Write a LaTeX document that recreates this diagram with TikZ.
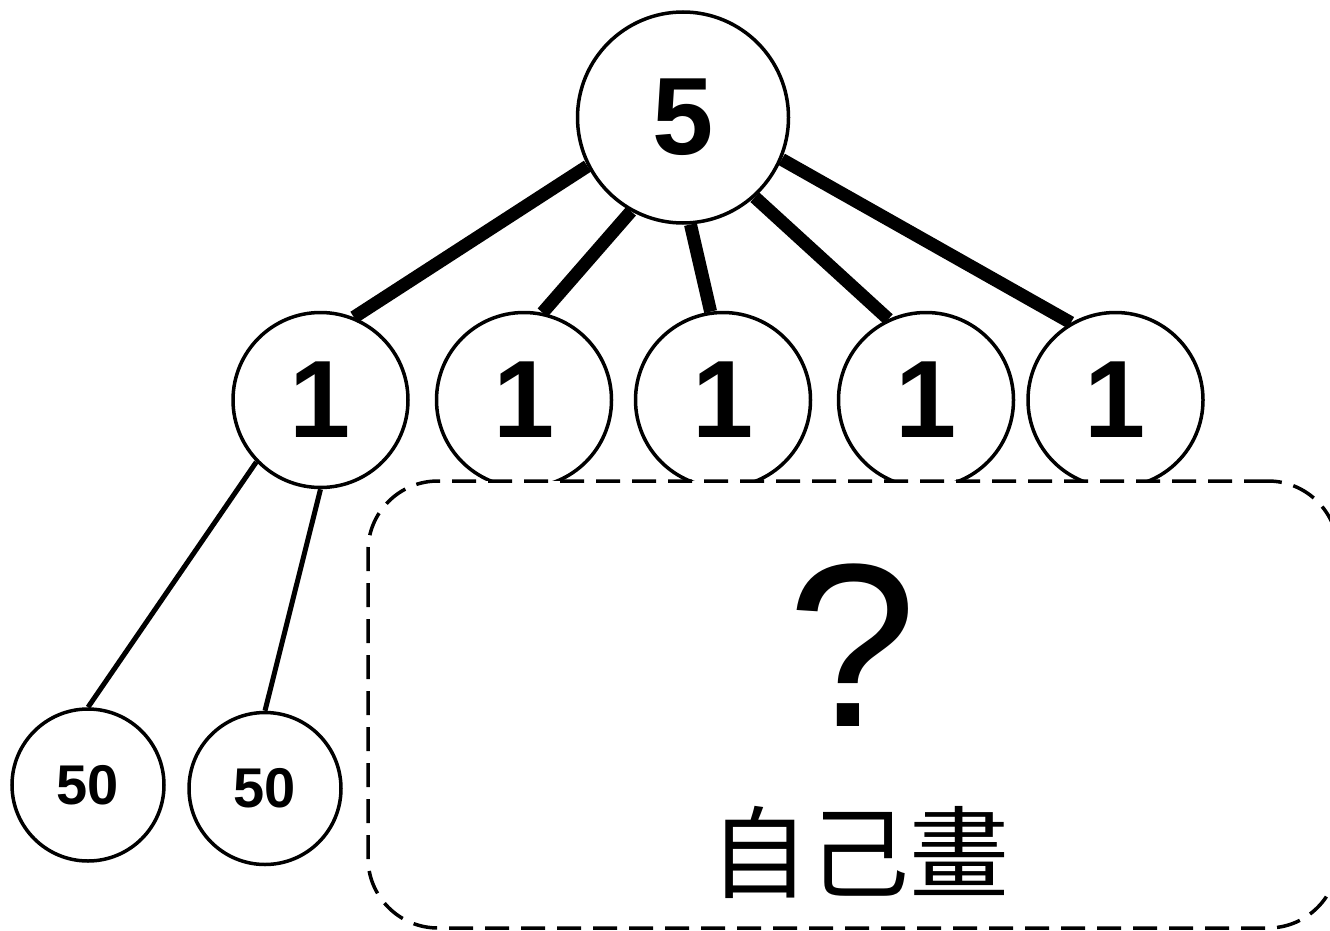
\documentclass[tikz,border=0pt]{standalone}
\usepackage{fontspec}
\setmainfont{Liberation Sans}
\newfontfamily\cjkfont{Noto Sans CJK TC}
\begin{document}
\begin{tikzpicture}[x=1pt,y=-1pt,
  circ/.style={circle,draw,line width=3.5pt,fill=white,inner sep=0pt,font=\bfseries},
  bigfont/.style={font=\fontsize{110}{120}\selectfont\bfseries},
  smallfont/.style={font=\fontsize{56}{60}\selectfont\bfseries},
  thickedge/.style={line width=13pt},
  thinedge/.style={line width=5pt},
  dashbox/.style={draw,line width=3.5pt,dash pattern=on 24pt off 12pt,fill=white,rounded corners=70pt}]
\useasboundingbox (0,0) rectangle (1330,931);
% nodes
\node[circ,bigfont,minimum size=211pt] (top) at (683,117.5) {5};
\node[circ,bigfont,minimum size=175pt] (a) at (320.5,400) {1};
\node[circ,bigfont,minimum size=175pt] (b) at (524,400) {1};
\node[circ,bigfont,minimum size=175pt] (c) at (723,400) {1};
\node[circ,bigfont,minimum size=175pt] (d) at (926,400) {1};
\node[circ,bigfont,minimum size=175pt] (e) at (1115.5,400) {1};
\node[circ,smallfont,minimum size=152pt] (f) at (88,785) {50};
\node[circ,smallfont,minimum size=152pt] (g) at (265,788.5) {50};
% edges
\draw[thickedge] (top.207) -- (a.68);
\draw[thickedge] (top.241) -- (b.78);
\draw[thickedge] (top.274) -- (c.98);
\draw[thickedge] (top.312) -- (d.115);
\draw[thickedge] (top.337.6) -- (e.120.5);
\draw[thinedge] (a.224.5) -- (f.90);
\draw[thinedge] (a.270) -- (g.90);
% dashed box
\node[dashbox,minimum width=970pt,minimum height=447pt,inner sep=0pt] (box) at (853,704.5) {};
\node[font=\fontsize{233}{240}\selectfont] (q) at (852,645) {?};
\node[font=\fontsize{100}{110}\selectfont\cjkfont] (t) at (859,852) {自己畫};
\end{tikzpicture}
\end{document}
